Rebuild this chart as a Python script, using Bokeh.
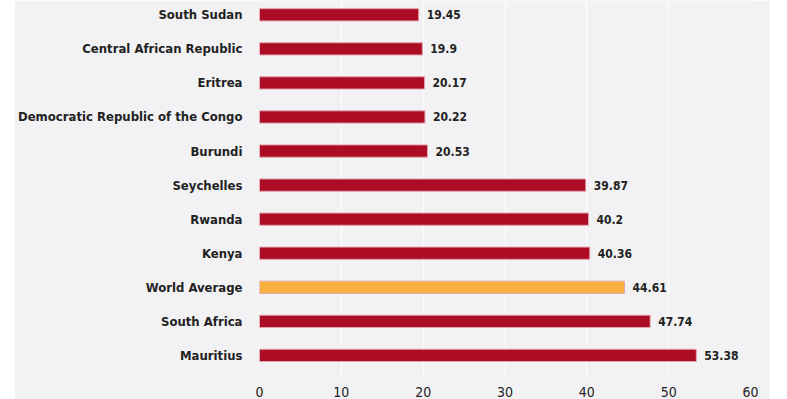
from bokeh.plotting import figure
from bokeh.models import Range1d, FixedTicker, ColumnDataSource, Spacer
from bokeh.layouts import row
from bokeh.core.properties import value
from bokeh.embed import file_html
from bokeh.resources import INLINE

# Data (top to bottom as in the chart)
countries = ["South Sudan", "Central African Republic", "Eritrea",
             "Democratic Republic of the Congo", "Burundi", "Seychelles",
             "Rwanda", "Kenya", "World Average", "South Africa", "Mauritius"]
scores = [19.45, 19.9, 20.17, 20.22, 20.53, 39.87, 40.2, 40.36, 44.61, 47.74, 53.38]
x_ticks = [0, 10, 20, 30, 40, 50, 60]
highlight = "World Average"

RED = "#ac0c24"
ORANGE = "#f8b03e"
BG = "#f2f2f4"
FONT = "DejaVu Sans Condensed"

n = len(countries)
ys = [n - 1 - i for i in range(n)]
colors = [ORANGE if c == highlight else RED for c in countries]
labels = [f"{v:g}" for v in scores]

src = ColumnDataSource(dict(y=ys, v=scores, c=colors, lab=labels, cat=countries))

p = figure(width=756, height=399, output_backend="svg", toolbar_location=None,
           x_range=Range1d(0, 60), y_range=Range1d(-0.62, n - 1 + 0.42),
           min_border_left=244, min_border_right=20, min_border_top=0,
           min_border_bottom=20)

p.background_fill_color = BG
p.border_fill_color = BG
p.outline_line_color = None

p.hbar(y="y", right="v", left=0, height=0.36, source=src, fill_color="c",
       line_color="#e3a3ad", line_width=1)

p.text(x="v", y="y", text="lab", source=src, x_offset=8,
       text_baseline="middle", text_align="left",
       text_font=value(FONT), text_font_style="bold",
       text_font_size="12px", text_color="#222222")

p.ygrid.grid_line_color = None
p.xgrid.grid_line_color = "#fbfbfc"
p.xgrid.grid_line_width = 1.5
p.xgrid.ticker = FixedTicker(ticks=x_ticks)

p.xaxis.ticker = FixedTicker(ticks=x_ticks)
p.xaxis.axis_line_color = None
p.xaxis.major_tick_line_color = None
p.xaxis.minor_tick_line_color = None
p.xaxis.major_label_standoff = 4
p.xaxis.major_label_text_font = FONT
p.xaxis.major_label_text_font_size = "14px"
p.xaxis.major_label_text_color = "#222222"

p.yaxis.ticker = FixedTicker(ticks=ys)
p.yaxis.major_label_overrides = {y: c for y, c in zip(ys, countries)}
p.yaxis.axis_line_color = None
p.yaxis.major_tick_line_color = None
p.yaxis.minor_tick_line_color = None
p.yaxis.major_tick_out = 0
p.yaxis.major_label_standoff = 17
p.yaxis.major_label_text_font = FONT
p.yaxis.major_label_text_font_style = "bold"
p.yaxis.major_label_text_font_size = "13px"
p.yaxis.major_label_text_color = "#222222"

layout = row(Spacer(width=14, height=399), p)

open("out.html", "w").write(file_html(layout, INLINE))
